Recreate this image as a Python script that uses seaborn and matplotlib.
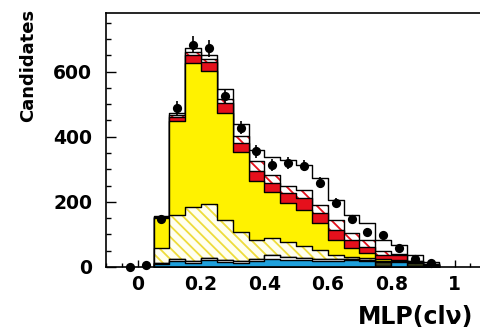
import numpy as np
import matplotlib
matplotlib.use("Agg")
import matplotlib.pyplot as plt
import seaborn as sns
from matplotlib.ticker import MultipleLocator, FixedLocator, FixedFormatter

# ---- data ----
bin_edges = [0.05, 0.10, 0.15, 0.20, 0.25, 0.30, 0.35, 0.40, 0.45, 0.50,
             0.55, 0.60, 0.65, 0.70, 0.75, 0.80, 0.85, 0.90, 0.95]
bin_centers = [0.075, 0.125, 0.175, 0.225, 0.275, 0.325, 0.375, 0.425, 0.475,
               0.525, 0.575, 0.625, 0.675, 0.725, 0.775, 0.825, 0.875, 0.925]

blue_bkg   = [10, 18, 12, 20, 16, 12, 17, 26, 20, 20, 18, 18, 20, 18, 2, 14, 3, 1]
light_bkg  = [3, 8, 5, 8, 6, 6, 7, 11, 10, 8, 8, 6, 6, 5, 2, 3, 1, 1]
dark_bkg   = [0, 0, 0, 0, 0, 0, 0, 0, 0, 0, 0, 0, 0, 0, 12, 0, 8, 4]
yellow_hatched = [45, 134, 166, 167, 123, 89, 60, 51, 48, 36, 26, 13, 6, 4, 2, 2, 1, 0]
yellow_solid   = [92, 289, 444, 406, 328, 247, 181, 142, 119, 111, 83, 46, 26, 16, 6, 4, 1, 1]
red_solid      = [3, 13, 25, 29, 30, 26, 30, 28, 31, 37, 31, 31, 25, 19, 13, 13, 3, 1]
red_hatched    = [2, 6, 8, 10, 12, 21, 29, 25, 21, 25, 25, 31, 22, 21, 13, 4, 2, 1]
white_top      = [2, 6, 13, 12, 32, 39, 36, 56, 80, 77, 82, 61, 55, 51, 33, 27, 18, 7]

data_x = [-0.025, 0.025, 0.075, 0.125, 0.175, 0.225, 0.275, 0.325, 0.375, 0.425,
          0.475, 0.525, 0.575, 0.625, 0.675, 0.725, 0.775, 0.825, 0.875, 0.925]
data_y = [0, 5, 148, 487, 683, 672, 524, 428, 355, 314,
          319, 311, 259, 197, 148, 109, 98, 58, 25, 12]

xticks = [0, 0.2, 0.4, 0.6, 0.8, 1.0]
xtick_labels = ["0", "0.2", "0.4", "0.6", "0.8", "1"]
yticks = [0, 200, 400, 600]
ytick_labels = ["0", "200", "400", "600"]

# ---- style ----
sns.set_style("ticks")
plt.rcParams["font.family"] = ["DejaVu Sans"]
plt.rcParams["font.weight"] = "bold"
plt.rcParams["text.color"] = "black"
plt.rcParams["axes.labelcolor"] = "black"
plt.rcParams["xtick.color"] = "black"
plt.rcParams["ytick.color"] = "black"
plt.rcParams["hatch.linewidth"] = 1.3

fig = plt.figure(figsize=(4.81, 3.31), dpi=100)
ax = fig.add_axes([106 / 481, 64 / 331, (486.2 - 106) / 481, 254 / 331])

# name, values, facecolor, hatchcolor, hatch
layers = [
    ("blue", blue_bkg, "#1ea0dc", None, None),
    ("light", light_bkg, "#ffffff", None, None),
    ("dark", dark_bkg, "#3d4420", None, None),
    ("yhatch", yellow_hatched, "#fffff0", "#eedc3c", "\\\\\\"),
    ("yellow", yellow_solid, "#fff200", None, None),
    ("red", red_solid, "#e5101c", None, None),
    ("rhatch", red_hatched, "#ffffff", "#e5101c", "\\\\\\"),
    ("top", white_top, "#ffffff", None, None),
]
cum = np.cumsum(np.array([l[1] for l in layers], dtype=float), axis=0)

for i in reversed(range(len(layers))):
    name, _, face, hcol, hatch = layers[i]
    if hatch:
        sns.histplot(x=bin_centers, weights=cum[i], bins=bin_edges, element="step",
                     fill=True, color=face, facecolor=face, edgecolor=hcol,
                     linewidth=0, hatch=hatch, alpha=1, ax=ax)
        sns.histplot(x=bin_centers, weights=cum[i], bins=bin_edges, element="step",
                     fill=True, color="black", facecolor="none", edgecolor="black",
                     linewidth=1.0, alpha=1, ax=ax)
    else:
        sns.histplot(x=bin_centers, weights=cum[i], bins=bin_edges, element="step",
                     fill=True, color=face, facecolor=face, edgecolor="black",
                     linewidth=1.0, alpha=1, ax=ax)

# data points
ax.errorbar(data_x, data_y, yerr=np.sqrt(data_y), fmt="none", ecolor="black",
            elinewidth=1.2, capsize=0, zorder=5)
sns.scatterplot(x=data_x, y=data_y, color="black", s=44, linewidth=0, ax=ax,
                zorder=6, clip_on=False)

ax.set_xlim(-0.1, 1.1)
ax.set_ylim(0, 780)
ax.set_xlabel("")
ax.set_ylabel("")

ax.xaxis.set_major_locator(FixedLocator(xticks))
ax.xaxis.set_major_formatter(FixedFormatter(xtick_labels))
ax.xaxis.set_minor_locator(MultipleLocator(0.05))
ax.yaxis.set_major_locator(FixedLocator(yticks))
ax.yaxis.set_major_formatter(FixedFormatter(ytick_labels))
ax.yaxis.set_minor_locator(MultipleLocator(50))

ax.tick_params(which="both", direction="in", top=False, right=False, width=1.0,
               colors="black")
ax.tick_params(axis="y", which="major", length=7, pad=10, labelsize=13.5)
ax.tick_params(axis="y", which="minor", length=3.5)
ax.tick_params(axis="x", which="major", length=5, pad=6, labelsize=13.5)
ax.tick_params(axis="x", which="minor", length=3)
for lab in ax.get_xticklabels() + ax.get_yticklabels():
    lab.set_fontweight("bold")

for s in ax.spines.values():
    s.set_linewidth(1.2)
    s.set_color("black")
    s.set_visible(True)

fig.text(358 / 481, 1 - 317 / 331, "MLP(clν)", ha="left", va="center",
         fontsize=17, fontweight="bold", color="black")
fig.text(28 / 481, 1 - 9 / 331, "Candidates", rotation=90, ha="center", va="top",
         fontsize=13, fontweight="bold", color="black")

fig.savefig("out.png", dpi=100)
